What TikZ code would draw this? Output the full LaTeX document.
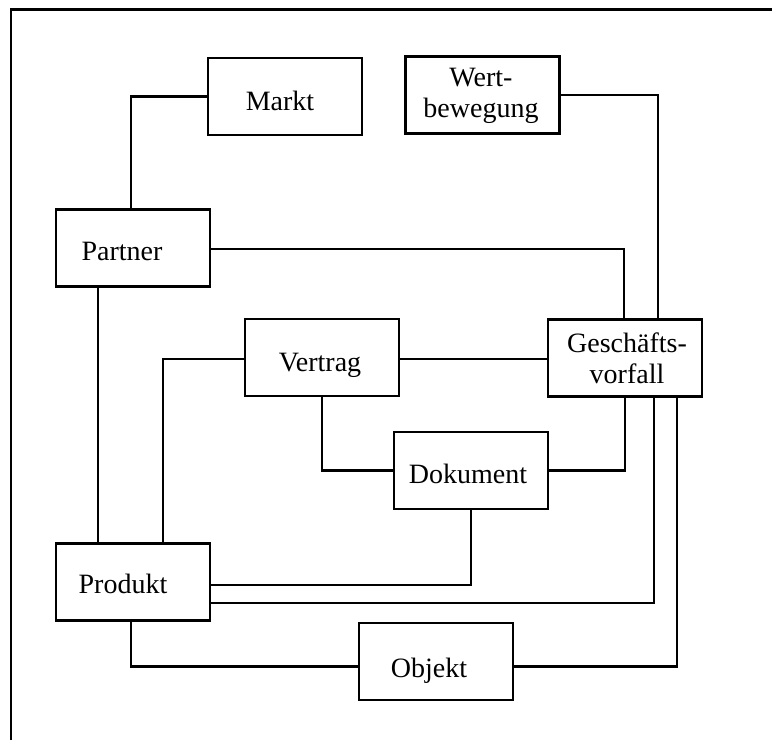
\documentclass[tikz,border=0pt]{standalone}
\usepackage{fontspec}
\setmainfont{Liberation Serif}
\begin{document}
\begin{tikzpicture}[x=1pt,y=-1pt,
  line width=2.3pt,
  box/.style={draw, rectangle, minimum width=154pt, minimum height=77pt, inner sep=0pt, line width=2.3pt},
  lbl/.style={inner sep=0pt, anchor=base, font=\fontsize{28pt}{31.5pt}\selectfont},
  lbl2/.style={inner sep=0pt, align=center, font=\fontsize{28pt}{31.5pt}\selectfont},
  link/.style={draw, line width=2.3pt, line cap=rect}]
\useasboundingbox (0,0) rectangle (772,740);

% page frame: top and left edges only
\draw[line width=2.3pt] (11,740) -- (11,9.5) -- (772,9.5);

% entity boxes
\node[box] (markt)    at (285,96.5) {};
\node[box] (wert)     at (482.5,95) {};
\node[box] (partner)  at (133,248) {};
\node[box] (vertrag)  at (322,357.5) {};
\node[box] (gv)       at (625,358) {};
\node[box] (dokument) at (471,470.5) {};
\node[box] (produkt)  at (133,582) {};
\node[box] (objekt)   at (436,661.5) {};

% box labels
\node[lbl]  (markt-t)    at (280,110)   {Markt};
\node[lbl2] (wert-t)     at (481,96)    {Wert-\\bewegung};
\node[lbl]  (partner-t)  at (122,260)   {Partner};
\node[lbl]  (vertrag-t)  at (320,371.5) {Vertrag};
\node[lbl2] (gv-t)       at (627,358.5) {Geschäfts-\\vorfall};
\node[lbl]  (dokument-t) at (468,483.3) {Dokument};
\node[lbl]  (produkt-t)  at (123,593.3) {Produkt};
\node[lbl]  (objekt-t)   at (429,677.3) {Objekt};

% connectors
\draw[link] ([xshift=-2pt]partner.north) |- (markt.west);
\draw[link] (wert.east) -| ([xshift=33pt]gv.north);
\draw[link] ([yshift=-1pt]partner.east) -| ([xshift=-1pt]gv.north);
\draw[link] ([yshift=-1.5pt]vertrag.east) -- ([yshift=-1.5pt]vertrag.east -| gv.west);
\draw[link] ([yshift=-1.5pt]vertrag.west) -| ([xshift=30pt]produkt.north);
\draw[link] (vertrag.south) |- (dokument.west);
\draw[link] (dokument.east) -| (gv.south);
\draw[link] (dokument.south) |- ([yshift=-3.3pt]produkt.east);
\draw[link] ([yshift=-21pt]produkt.east) -| ([xshift=29.3pt]gv.south);
\draw[link] ([xshift=-2pt]produkt.south) |- ([yshift=-5pt]objekt.west);
\draw[link] ([yshift=-5pt]objekt.east) -| ([xshift=52.3pt]gv.south);
\draw[link] ([xshift=-35.3pt]partner.south) -- ([xshift=-35.3pt]produkt.north);
\end{tikzpicture}
\end{document}
